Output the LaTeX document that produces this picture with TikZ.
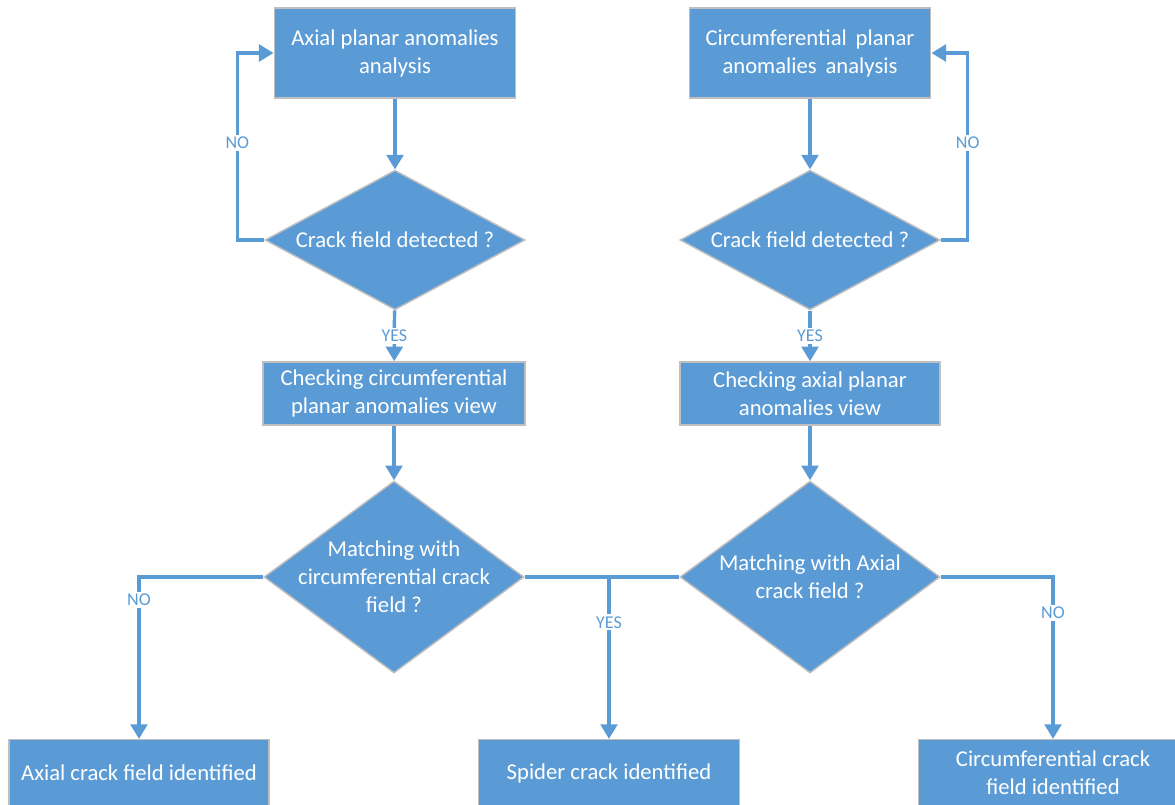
\documentclass[tikz,border=0pt]{standalone}
\usepackage{fontspec}
\setmainfont{Carlito}
\usetikzlibrary{shapes.geometric,arrows.meta}
\definecolor{boxblue}{HTML}{5B9BD5}
\definecolor{boxedge}{HTML}{BFBFBF}

\begin{document}
\begin{tikzpicture}[x=0.75pt, y=-0.75pt,
  every node/.style={font=\fontsize{17pt}{21pt}\selectfont, align=center},
  process/.style={rectangle, fill=boxblue, draw=boxedge, line width=1.1pt, text=white, inner sep=2pt},
  decision/.style={diamond, fill=boxblue, draw=boxedge, line width=1.1pt, text=white, inner sep=-14pt},
  flow/.style={draw=boxblue, line width=2.6pt, -{Triangle[length=11pt,width=12.5pt]}},
  link/.style={draw=boxblue, line width=2.6pt},
  lbl/.style={font=\fontsize{13.5pt}{15pt}\selectfont, text=boxblue, fill=white, inner sep=1.5pt}]
  \useasboundingbox (0,0) rectangle (1175,804);
  % left column
  \node[process, minimum width=181pt, minimum height=67.5pt] (a1) at (395,53) {Axial planar anomalies\\analysis};
  \node[decision, minimum width=195pt, minimum height=100.5pt] (d1) at (395,240) {Crack field detected ?};
  \node[process, minimum width=196.5pt, minimum height=47.25pt] (a2) at (394,393.5) {Checking circumferential\\planar anomalies view};
  \node[decision, minimum width=195pt, minimum height=144pt] (d3) at (394,577) {Matching with\\circumferential crack\\field ?};
  % right column
  \node[process, minimum width=181pt, minimum height=67.5pt] (b1) at (810,53) {Circumferential\, planar\\anomalies\, analysis};
  \node[decision, minimum width=195pt, minimum height=100.5pt] (d2) at (810,240) {Crack field detected ?};
  \node[process, minimum width=195pt, minimum height=47.25pt] (b2) at (810,393.5) {Checking axial planar\\anomalies view};
  \node[decision, minimum width=195pt, minimum height=144pt] (d4) at (810,577) {Matching with Axial\\crack field ?};
  % results
  \node[process, minimum width=195pt, minimum height=50pt] (c1) at (139,773) {Axial crack field identified};
  \node[process, minimum width=196pt, minimum height=50pt] (c2) at (609,773) {Spider crack identified};
  \node[process, minimum width=202pt, minimum height=50pt] (c3) at (1053,773) {Circumferential crack\\field identified};
  \coordinate (j) at (609,577);

  \draw[flow] (a1) -- (d1);
  \draw[flow] (d1.west) -- ++(-27,0) |- (a1.west) node[lbl, pos=0.26] {NO};
  \draw[flow] (d1) -- node[lbl] {YES} (a2);
  \draw[flow] (a2) -- (d3);
  \draw[flow] (b1) -- (d2);
  \draw[flow] (d2.east) -- ++(27,0) |- (b1.east) node[lbl, pos=0.26] {NO};
  \draw[flow] (d2) -- node[lbl] {YES} (b2);
  \draw[flow] (b2) -- (d4);
  \draw[link] (d3.east) -- (d4.west);
  \draw[flow] (j) -- node[lbl, pos=0.28] {YES} (c2);
  \draw[flow] (d3.west) -| (c1) node[lbl, pos=0.57] {NO};
  \draw[flow] (d4.east) -| (c3) node[lbl, pos=0.61] {NO};
\end{tikzpicture}
\end{document}
